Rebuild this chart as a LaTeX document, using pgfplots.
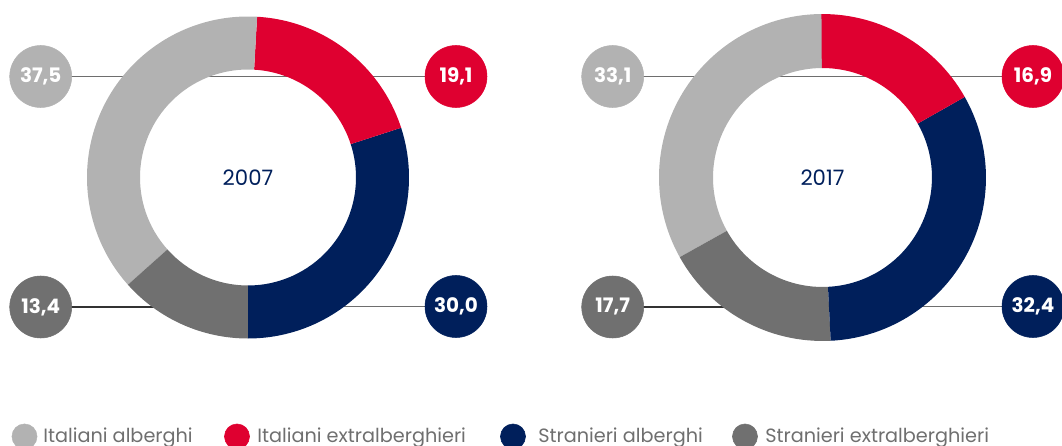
\documentclass[border=0pt]{standalone}
\usepackage{fontspec}
\setmainfont{Poppins}
\usepackage{pgfplots}
\pgfplotsset{compat=1.18}
\usepackage{pgfplotstable}
\usetikzlibrary{calc}

\definecolor{lgray}{HTML}{B2B2B2}
\definecolor{dgray}{HTML}{707070}
\definecolor{navy}{HTML}{001F5B}
\definecolor{rosso}{HTML}{DF0030}
\definecolor{linegray}{HTML}{6E6E6E}
\definecolor{legtext}{HTML}{6F6F6F}

% shares (%), rows in legend order
\pgfplotstableread{
row col a2007 a2017
0 lgray 37.5 33.1
1 rosso 19.1 16.9
2 navy 30.0 32.4
3 dgray 13.4 17.7
}\shares

% cx, cy, R, r, start angle, rows (counterclockwise), column
\newcommand\donut[7]{%
  \pgfplotsextra{%
    \xdef\curang{#5}%
    \foreach \i in {#6}{%
      \pgfplotstablegetelem{\i}{#7}\of\shares
      \pgfmathsetmacro\endang{\curang+3.6*\pgfplotsretval}%
      \pgfplotstablegetelem{\i}{col}\of\shares
      \edef\segcol{\pgfplotsretval}%
      \fill[fill=\segcol] ($(axis cs:#1,#2)+(\curang:#3)$)
        arc[start angle=\curang, end angle=\endang, radius=#3]
        -- ($(axis cs:#1,#2)+(\endang:#4)$)
        arc[start angle=\endang, end angle=\curang, radius=#4] -- cycle;
      \xdef\curang{\endang}%
    }%
  }%
}

\pgfplotsset{
  bubble/.style={only marks, mark=*, mark size=23.25bp, color=#1,
    nodes near coords, point meta=explicit symbolic,
    every node near coord/.style={anchor=center, text=white,
      font=\bfseries\fontsize{15}{15}\selectfont}},
}

\begin{document}
\begin{tikzpicture}
\useasboundingbox (0,0) rectangle (796.5bp,334.5bp);
\clip (0,0) rectangle (796.5bp,334.5bp);
\begin{axis}[
  anchor=origin, at={(0,0)},
  x=0.75bp, y=0.75bp,
  xmin=0, xmax=1062, ymin=0, ymax=446,
  hide axis, clip=false,
]
% connector lines
\draw[linegray, line width=0.8bp] (axis cs:40.7,369.5) -- (axis cs:248,369.5);
\draw[linegray, line width=0.8bp] (axis cs:456,369.5) -- (axis cs:248,369.5);
\draw[black!80, line width=0.8bp] (axis cs:40.7,139) -- (axis cs:248,139);
\draw[linegray, line width=0.8bp] (axis cs:456,139.5) -- (axis cs:248,139.5);
\draw[linegray, line width=0.8bp] (axis cs:612.7,369.5) -- (axis cs:822.5,369.5);
\draw[linegray, line width=0.8bp] (axis cs:1033,369.5) -- (axis cs:822.5,369.5);
\draw[black!80, line width=0.8bp] (axis cs:612.7,139) -- (axis cs:822.5,139);
\draw[linegray, line width=0.8bp] (axis cs:1033,139.5) -- (axis cs:822.5,139.5);

% donuts
\donut{248}{268.5}{120.75bp}{81bp}{-90}{2,1,0,3}{a2007}
\donut{822.5}{268.5}{122.6bp}{82.1bp}{90}{0,3,2,1}{a2017}

\node[text=navy, font=\fontsize{16}{16}\selectfont] at (axis cs:248,268.5) {2007};
\node[text=navy, font=\fontsize{16}{16}\selectfont] at (axis cs:822.5,268.5) {2017};

% value bubbles
\addplot[bubble=lgray] coordinates {(40.7,369.5) [{37,5}] (612.7,369.5) [{33,1}]};
\addplot[bubble=rosso] coordinates {(456,369.5) [{19,1}] (1033,369.5) [{16,9}]};
\addplot[bubble=navy] coordinates {(456,139.5) [{30,0}] (1033,139.5) [{32,4}]};
\addplot[bubble=dgray] coordinates {(40.7,139) [{13,4}] (612.7,139) [{17,7}]};

% legend
\addplot[only marks, mark=*, mark size=9.4bp, color=lgray] coordinates {(24.5,9.5)};
\addplot[only marks, mark=*, mark size=9.4bp, color=rosso] coordinates {(237,9.5)};
\addplot[only marks, mark=*, mark size=9.4bp, color=navy] coordinates {(513,9.5)};
\addplot[only marks, mark=*, mark size=9.4bp, color=dgray] coordinates {(745,9.5)};
\begin{scope}[every node/.style={anchor=base west, inner sep=0pt, text=legtext, font=\fontsize{14.5}{14.5}\selectfont}]
\node at (axis cs:43,3) {Italiani alberghi};
\node at (axis cs:257,3) {Italiani extralberghieri};
\node at (axis cs:538,3) {Stranieri alberghi};
\node at (axis cs:765,3) {Stranieri extralberghieri};
\end{scope}
\end{axis}
\end{tikzpicture}
\end{document}
